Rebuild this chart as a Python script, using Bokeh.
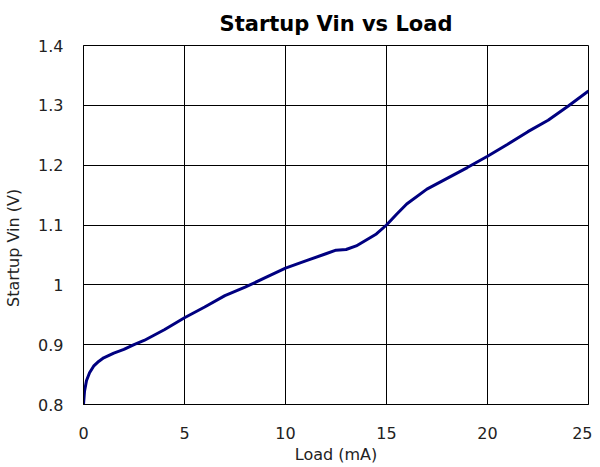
from bokeh.plotting import figure
from bokeh.embed import file_html
from bokeh.resources import INLINE
from bokeh.models import FixedTicker, Range1d

load_ma = [0, 0.05, 0.15, 0.3, 0.5, 0.75, 1, 1.5, 2, 2.5, 3, 4, 5, 6, 7, 8, 9, 10, 11, 12,
           12.5, 13, 13.5, 14, 14.5, 15, 15.5, 16, 17, 18, 19, 20, 21, 22, 23, 24, 25]
vin = [0.80, 0.822, 0.84, 0.853, 0.864, 0.872, 0.878, 0.886, 0.892, 0.90, 0.907, 0.925,
       0.945, 0.963, 0.982, 0.996, 1.012, 1.028, 1.04, 1.052, 1.058, 1.059, 1.065, 1.075,
       1.085, 1.10, 1.118, 1.135, 1.16, 1.178, 1.196, 1.215, 1.235, 1.256, 1.275, 1.299, 1.324]

x_ticks = [0, 5, 10, 15, 20, 25]
y_ticks = [0.8, 0.9, 1.0, 1.1, 1.2, 1.3, 1.4]
y_labels = ["0.8", "0.9", "1", "1.1", "1.2", "1.3", "1.4"]

p = figure(width=592, height=466, output_backend="svg", toolbar_location=None,
           x_range=Range1d(0, 25), y_range=Range1d(0.8, 1.4),
           min_border_left=83, min_border_right=4, min_border_top=45, min_border_bottom=61,
           title="Startup Vin vs Load")
p.title.align = "center"
p.title.text_font = "DejaVu Sans"
p.title.text_font_size = "21px"
p.title.text_font_style = "bold"
p.title.text_color = "black"
p.title.standoff = 19

p.line(load_ma, vin, line_color="#000080", line_width=3)

p.xaxis.ticker = FixedTicker(ticks=x_ticks)
p.yaxis.ticker = FixedTicker(ticks=y_ticks)
p.yaxis.major_label_overrides = {t: l for t, l in zip(y_ticks, y_labels)}
for ax in (p.xaxis, p.yaxis):
    ax.major_tick_line_color = None
    ax.minor_tick_line_color = None
    ax.axis_line_color = "black"
    ax.major_label_text_font = "DejaVu Sans"
    ax.major_label_text_font_size = "16px"
    ax.major_label_text_color = "#222222"
    ax.axis_label_text_font = "DejaVu Sans"
    ax.axis_label_text_font_size = "16px"
    ax.axis_label_text_font_style = "normal"
    ax.axis_label_text_color = "#222222"
p.xaxis.axis_label = "Load (mA)"
p.yaxis.axis_label = "Startup Vin (V)" + "\u00a0" * 9
p.xaxis.major_label_standoff = 16
p.yaxis.major_label_standoff = 14
p.xaxis.axis_label_standoff = 3
p.yaxis.axis_label_standoff = 12

p.grid.grid_line_color = "black"
p.grid.grid_line_width = 1
p.grid.grid_line_alpha = 1
p.outline_line_color = "black"
p.outline_line_width = 1

open("out.html", "w").write(file_html(p, INLINE))
